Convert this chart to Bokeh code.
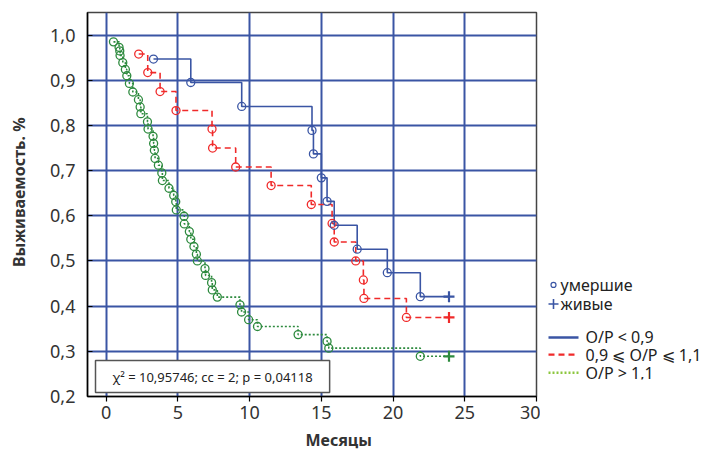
import math
from bokeh.plotting import figure
from bokeh.layouts import row
from bokeh.models import FixedTicker, Label, CustomJSTickFormatter, Title, Range1d
from bokeh.core.properties import value
from bokeh.embed import file_html
from bokeh.resources import INLINE

# ---- data ----
blue_t = [3.3, 5.9, 9.45, 14.35, 14.45, 15.0, 15.4, 15.9, 17.5, 19.6, 21.9]
blue_s = [0.947, 0.895, 0.842, 0.789, 0.737, 0.684, 0.632, 0.579, 0.526, 0.474, 0.421]
blue_cens_t = [23.9]
blue_cens_s = [0.421]

red_t = [2.27, 2.9, 3.76, 4.87, 7.38, 7.42, 9.03, 11.5, 14.3, 15.75, 15.9, 17.4, 17.93, 17.97, 20.93]
red_s = [0.958, 0.917, 0.875, 0.833, 0.792, 0.750, 0.708, 0.667, 0.625, 0.583, 0.542, 0.500, 0.458, 0.417, 0.375]
red_cens_t = [23.9]
red_cens_s = [0.375]

green_t = [0.51, 0.90, 0.95, 0.97, 1.16, 1.34, 1.44, 1.62, 1.86, 2.25, 2.37, 2.42, 2.88, 2.92,
           3.27, 3.31, 3.36, 3.41, 3.64, 3.88, 3.92, 4.38, 4.71, 4.85, 4.89, 5.43, 5.45, 5.80,
           5.90, 6.12, 6.29, 6.36, 6.89, 6.93, 7.35, 7.40, 7.75, 9.33, 9.44, 9.93, 10.55,
           13.38, 15.40, 15.52, 21.90]
green_s = [0.985, 0.973, 0.965, 0.955, 0.939, 0.924, 0.910, 0.893, 0.874, 0.857, 0.841, 0.826,
           0.808, 0.792, 0.776, 0.760, 0.745, 0.727, 0.712, 0.695, 0.678, 0.661, 0.645, 0.631,
           0.613, 0.599, 0.582, 0.565, 0.548, 0.532, 0.515, 0.500, 0.483, 0.468, 0.452, 0.436,
           0.420, 0.403, 0.387, 0.370, 0.355, 0.337, 0.322, 0.307, 0.289]
green_cens_t = [23.9]
green_cens_s = [0.289]

x_ticks = [0, 5, 10, 15, 20, 25, 30]
y_ticks = [0.2, 0.3, 0.4, 0.5, 0.6, 0.7, 0.8, 0.9, 1.0]

legend_markers = ["умершие", "живые"]
legend_groups = ["O/P < 0,9", "0,9 ⩽ O/P ⩽ 1,1", "O/P > 1,1"]
stats_text = "χ² = 10,95746; cc = 2; p = 0,04118"
x_title = "Месяцы"
y_title = "Выживаемость. %"

# ---- styles / layout ----
FONT = "Noto Sans"
GRID = "#3a55a4"
BLUE = "#3a55a4"
RED = "#f02a2a"
GREEN = "#2d8a3e"
LGREEN = "#8cc63f"

H = 440
YL_W = 30            # strip holding the y title
FL, FT, FW, FH = 87, 12, 449, 384
P_RIGHT = 4
Q_W = 170            # strip holding the legend
Q_X0 = FL + FW + P_RIGHT   # page x where the legend strip begins
# side strips: y mapped so that values equal page pixels from the top
strip_y = dict(start=FH, end=0)

# ---- y-title strip ----
yl = figure(width=YL_W, height=H, x_range=Range1d(0, YL_W), y_range=Range1d(**strip_y),
            output_backend="svg", toolbar_location=None,
            x_axis_location=None, y_axis_location=None, min_border=0, outline_line_color=None)
yl.grid.visible = False
yl.add_layout(Label(x=18, y=188, text=y_title,
                    angle=math.pi / 2, text_font=FONT, text_font_size="16px",
                    text_font_style="bold", text_color="#333333",
                    text_align="center", text_baseline="middle"))

# ---- main chart ----
p = figure(frame_width=FW, frame_height=FH, x_range=(-1.3, 30), y_range=(0.2, 1.05),
           output_backend="svg", toolbar_location=None,
           min_border_left=FL - YL_W, min_border_top=FT, min_border_right=P_RIGHT,
           min_border_bottom=10)

p.xaxis.ticker = FixedTicker(ticks=x_ticks)
p.yaxis.ticker = FixedTicker(ticks=y_ticks)
p.yaxis.formatter = CustomJSTickFormatter(code="return tick.toFixed(1).replace('.', ',');")
for ax in (p.xaxis, p.yaxis):
    ax.major_label_text_font = FONT
    ax.major_label_text_font_size = "18px"
    ax.major_label_text_color = "#333333"
    ax.axis_line_color = "black"
    ax.axis_line_width = 1.5
    ax.major_tick_line_color = "black"
    ax.major_tick_line_width = 1.2
    ax.minor_tick_line_color = None
p.xaxis.major_tick_out = 5
p.xaxis.major_tick_in = 0
p.xaxis.major_label_standoff = 4
p.yaxis.major_tick_out = 0
p.yaxis.major_tick_in = 5
p.yaxis.major_label_standoff = 12

p.grid.grid_line_color = GRID
p.grid.grid_line_width = 2
p.outline_line_color = "#444444"
p.outline_line_width = 1.5
p.background_fill_color = "white"
p.border_fill_color = "white"

p.add_layout(Title(text=x_title, align="left", offset=218, vertical_align="middle",
                   text_font=FONT, text_font_size="16px", text_font_style="bold",
                   text_color="#333333", standoff=12), "below")

# curves
p.step(x=green_t + green_cens_t, y=green_s + green_cens_s, mode="after",
       line_color=GREEN, line_width=1.6, line_dash="2 2")
p.step(x=red_t + red_cens_t, y=red_s + red_cens_s, mode="after",
       line_color=RED, line_width=1.6, line_dash="6 4")
p.step(x=blue_t + blue_cens_t, y=blue_s + blue_cens_s, mode="after",
       line_color=BLUE, line_width=1.6)

for t, s, c in ((green_t, green_s, GREEN), (red_t, red_s, RED), (blue_t, blue_s, BLUE)):
    p.scatter(t, s, marker="circle", size=8, line_color=c, line_width=1.3, fill_color=None)
for t, s, c in ((green_cens_t, green_cens_s, GREEN), (red_cens_t, red_cens_s, RED),
                (blue_cens_t, blue_cens_s, BLUE)):
    p.scatter(t, s, marker="cross", size=11, line_color=c, line_width=2.2)

# stats box
p.add_layout(Label(x=8, y=4, x_units="screen", y_units="screen", text=stats_text,
                   text_font=FONT, text_font_size="13px", text_color="#222222",
                   text_align="left", text_baseline="bottom",
                   padding=(17, 7), border_line_color="#555555", border_line_width=1.5,
                   background_fill_color="white"))

# ---- legend strip (x from strip left, y in page pixels) ----
q = figure(width=Q_W, height=H, x_range=Range1d(0, Q_W), y_range=Range1d(**strip_y),
           output_backend="svg", toolbar_location=None,
           x_axis_location=None, y_axis_location=None, min_border=0, outline_line_color=None)
q.grid.visible = False
q.background_fill_color = "white"
q.border_fill_color = "white"

mk_x = 553 - Q_X0
mk_rows = [285, 305]
q.scatter([mk_x], [mk_rows[0]], marker="circle", size=5, line_color=BLUE, fill_color=None,
          line_width=1.2)
q.scatter([mk_x], [mk_rows[1]], marker="cross", size=10, line_color=BLUE, line_width=1.6)
q.text([560 - Q_X0] * 2, mk_rows, text=legend_markers, text_font=value(FONT),
       text_font_size="16px", text_color="#222222", text_baseline="middle", text_align="left")

ln_x0, ln_x1 = 548 - Q_X0, 578 - Q_X0
ln_rows = [340, 358, 377]
for yy, c, dash in zip(ln_rows, (BLUE, RED, LGREEN), ("solid", "6 4", "2 2")):
    q.segment(x0=[ln_x0], y0=[yy], x1=[ln_x1], y1=[yy], line_color=c, line_width=2.4,
              line_dash=dash)
q.text([585 - Q_X0] * 3, ln_rows, text=legend_groups, text_font=value(FONT),
       text_font_size="16px", text_color="#222222", text_baseline="middle", text_align="left")

layout = row(yl, p, q)
open("out.html", "w").write(file_html(layout, INLINE))
